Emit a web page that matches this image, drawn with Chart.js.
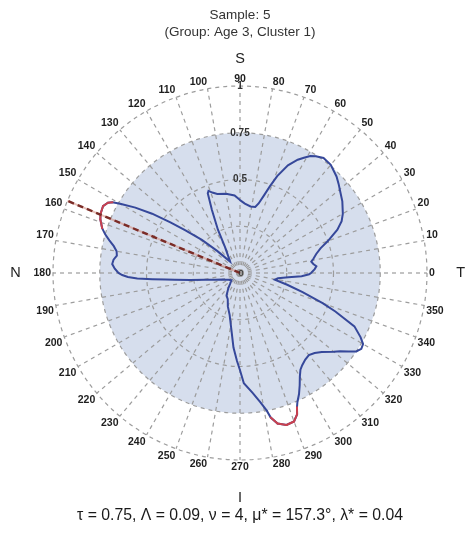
<!DOCTYPE html>
<html>
<head>
<meta charset="utf-8">
<script src="https://cdn.jsdelivr.net/npm/chart.js@4.4.0/dist/chart.umd.min.js"></script>
<style>
  html, body { margin: 0; padding: 0; background: #ffffff; }
  #wrap { width: 470px; height: 536px; position: relative; }
</style>
</head>
<body>
<div id="wrap"><canvas id="chart"></canvas></div>
<script>
// Profile directions (degrees, counter-clockwise from T) and radius at each direction
const directions = [
  0, 3, 5, 7, 9, 11, 14, 17, 20, 24, 27, 30, 35, 39, 42, 45, 50, 54, 57, 59,
  61, 63, 66, 69, 71, 73, 75, 77, 81, 86, 90, 94, 100, 106, 109, 111, 112, 114, 117, 120,
  125, 128, 131, 134, 136, 139, 142, 144, 146, 148, 150, 151, 152, 154, 157, 159, 162, 164, 166, 168,
  170, 172, 174, 176, 178, 180, 181, 182, 183, 184, 185, 186, 188, 191, 195, 200, 205, 211, 220, 228,
  233, 239, 245, 250, 256, 261, 265, 268, 270, 272, 276, 279, 281, 282, 284, 287, 290, 292, 293, 294,
  296, 298, 300, 302, 304, 307, 310, 313, 316, 320, 322, 324, 326, 328, 330, 332, 335, 338, 340, 343,
  346, 349, 352, 355, 357, 359
];
const radii = [
  0.38, 0.40, 0.41, 0.395, 0.386, 0.40, 0.42, 0.45, 0.50, 0.57, 0.61, 0.635, 0.668, 0.69, 0.71, 0.73, 0.755, 0.76, 0.745, 0.73,
  0.705, 0.68, 0.63, 0.555, 0.49, 0.43, 0.385, 0.362, 0.36, 0.372, 0.39, 0.416, 0.43, 0.44, 0.455, 0.47, 0.46, 0.37, 0.26, 0.16,
  0.11, 0.09, 0.08, 0.12, 0.17, 0.27, 0.37, 0.46, 0.567, 0.66, 0.74, 0.78, 0.80, 0.815, 0.81, 0.80, 0.775, 0.75, 0.72, 0.69,
  0.67, 0.665, 0.68, 0.685, 0.67, 0.65, 0.63, 0.60, 0.55, 0.47, 0.40, 0.35, 0.27, 0.19, 0.14, 0.10, 0.085, 0.07, 0.06, 0.08,
  0.105, 0.14, 0.155, 0.19, 0.23, 0.30, 0.40, 0.47, 0.52, 0.59, 0.645, 0.70, 0.75, 0.79, 0.83, 0.85, 0.845, 0.815, 0.78, 0.755,
  0.72, 0.68, 0.64, 0.61, 0.595, 0.58, 0.573, 0.585, 0.608, 0.655, 0.68, 0.715, 0.75, 0.765, 0.76, 0.73, 0.675, 0.55, 0.47, 0.35,
  0.26, 0.19, 0.205, 0.26, 0.33, 0.37
];

// Direction tick labels around the rim
const angleTicks = [0, 10, 20, 30, 40, 50, 60, 70, 80, 90, 100, 110, 120, 130, 140, 150, 160, 170,
  180, 190, 200, 210, 220, 230, 240, 250, 260, 270, 280, 290, 300, 310, 320, 330, 340, 350];
// Radial tick values that carry a label
const radialTickLabels = [0, 0.5, 0.75, 1];

// Summary statistics
const tau = 0.75;
const meanDirection = 157.3;
const meanLength = 1;
const highCut = 0.77;

const titleLines = ['Sample: 5', '(Group: Age 3, Cluster 1)'];
const caption = 'τ = 0.75, Λ = 0.09, ν = 4, μ* = 157.3°, λ* = 0.04';
const sideLetters = [
  { text: 'T', dir: 0, k: 1.18 },
  { text: 'S', dir: 90, k: 1.145 },
  { text: 'N', dir: 180, k: 1.2 },
  { text: 'I', dir: 270, k: 1.205 }
];

// One radar slot per degree; slot 0 sits at the top (90°) and slots run clockwise
const SLOTS = 360;
const slotOf = (deg) => ((450 - deg) % 360 + 360) % 360;
const labels = [];
for (let i = 0; i < SLOTS; i++) labels.push((450 - i) % 360);

const profile = new Array(SLOTS).fill(null);
directions.forEach((d, k) => { profile[slotOf(d)] = radii[k]; });

// Consecutive measured slots whose values both reach the high cut
const highPairs = [];
(function () {
  const real = [];
  for (let i = 0; i < SLOTS; i++) if (profile[i] !== null) real.push(i);
  for (let k = 0; k < real.length; k++) {
    const a = real[k], b = real[(k + 1) % real.length];
    if (profile[a] >= highCut && profile[b] >= highCut) highPairs.push([a, b]);
  }
})();

const BLUE = '#36489a';
const RED = '#c9414f';
const FONT = '"Liberation Sans", Arial, sans-serif';

const decorations = {
  id: 'decorations',
  beforeDraw(chart) {
    const s = chart.scales.r;
    const ctx = chart.ctx;
    ctx.save();
    ctx.beginPath();
    ctx.arc(s.xCenter, s.yCenter, s.getDistanceFromCenterForValue(tau), 0, Math.PI * 2);
    ctx.fillStyle = '#d6deed';
    ctx.fill();
    ctx.restore();
  },
  afterDatasetsDraw(chart) {
    const s = chart.scales.r;
    const ctx = chart.ctx;
    const pts = chart.getDatasetMeta(0).data;
    ctx.save();

    // stretches of the profile beyond the high cut
    ctx.strokeStyle = RED;
    ctx.lineWidth = 2;
    ctx.lineJoin = 'round';
    ctx.lineCap = 'round';
    highPairs.forEach(([a, b]) => {
      ctx.beginPath();
      ctx.moveTo(pts[a].x, pts[a].y);
      ctx.lineTo(pts[b].x, pts[b].y);
      ctx.stroke();
    });
    ctx.lineCap = 'butt';

    // mean direction
    const tip = s.getPointPositionForValue(slotOf(meanDirection), meanLength);
    ctx.beginPath();
    ctx.moveTo(s.xCenter, s.yCenter);
    ctx.lineTo(tip.x, tip.y);
    ctx.strokeStyle = 'rgba(214,140,125,0.55)';
    ctx.lineWidth = 2;
    ctx.stroke();
    ctx.setLineDash([6, 4]);
    ctx.strokeStyle = '#7a2c27';
    ctx.lineWidth = 2.4;
    ctx.beginPath();
    ctx.moveTo(s.xCenter, s.yCenter);
    ctx.lineTo(tip.x, tip.y);
    ctx.stroke();
    ctx.setLineDash([]);

    // direction labels on the rim
    ctx.font = 'bold 10.5px ' + FONT;
    ctx.fillStyle = '#1e1e1e';
    angleTicks.forEach((deg) => {
      const p = s.getPointPosition(slotOf(deg), s.drawingArea + 2);
      const rad = deg * Math.PI / 180;
      const c = Math.cos(rad), sn = Math.sin(rad);
      ctx.textAlign = c > 0.05 ? 'left' : (c < -0.05 ? 'right' : 'center');
      ctx.textBaseline = sn > 0.05 ? 'bottom' : (sn < -0.05 ? 'top' : 'middle');
      ctx.fillText(String(deg), p.x, p.y);
    });

    // centre value
    ctx.font = '9px ' + FONT;
    ctx.fillStyle = '#333';
    ctx.textAlign = 'center';
    ctx.textBaseline = 'middle';
    ctx.fillText('0', s.xCenter + 1, s.yCenter + 1);

    // side letters
    ctx.font = '14.5px ' + FONT;
    ctx.fillStyle = '#222';
    sideLetters.forEach((l) => {
      const p = s.getPointPosition(slotOf(l.dir), s.drawingArea * l.k);
      ctx.fillText(l.text, p.x, p.y);
    });
    ctx.restore();
  }
};

new Chart(document.getElementById('chart'), {
  type: 'radar',
  data: {
    labels: labels,
    datasets: [{
      data: profile,
      borderColor: BLUE,
      borderWidth: 2,
      pointRadius: 0,
      pointHoverRadius: 0,
      fill: false,
      spanGaps: true,
      tension: 0
    }]
  },
  options: {
    responsive: true,
    maintainAspectRatio: false,
    animation: false,
    events: [],
    layout: { padding: { left: 45, right: 35, top: 0, bottom: 0 } },
    plugins: {
      legend: { display: false },
      tooltip: { enabled: false },
      title: {
        display: true,
        text: titleLines,
        color: '#333',
        font: { family: FONT, size: 13.5, weight: 'normal', lineHeight: 1.26 },
        padding: { top: 7, bottom: 37 }
      },
      subtitle: {
        display: true,
        position: 'bottom',
        text: caption,
        color: '#1a1a1a',
        font: { family: FONT, size: 15.8, weight: 'normal', lineHeight: 1.1 },
        padding: { top: 39.3, bottom: 11.32 }
      }
    },
    scales: {
      r: {
        min: 0,
        max: 1,
        startAngle: 0,
        ticks: {
          stepSize: 0.25,
          display: true,
          showLabelBackdrop: false,
          color: '#333',
          font: { family: FONT, size: 10, weight: 'bold' },
          callback: (v) => (radialTickLabels.includes(v) ? String(v) : '')
        },
        grid: { circular: true, color: '#9c9c9c', lineWidth: 1.2 },
        border: { dash: [4, 4] },
        angleLines: {
          color: '#9c9c9c',
          lineWidth: (ctx) => (angleTicks.includes(labels[ctx.index]) ? 1.2 : 0),
          borderDash: [4, 4]
        },
        pointLabels: { display: false }
      }
    }
  },
  plugins: [decorations]
});
</script>
</body>
</html>
